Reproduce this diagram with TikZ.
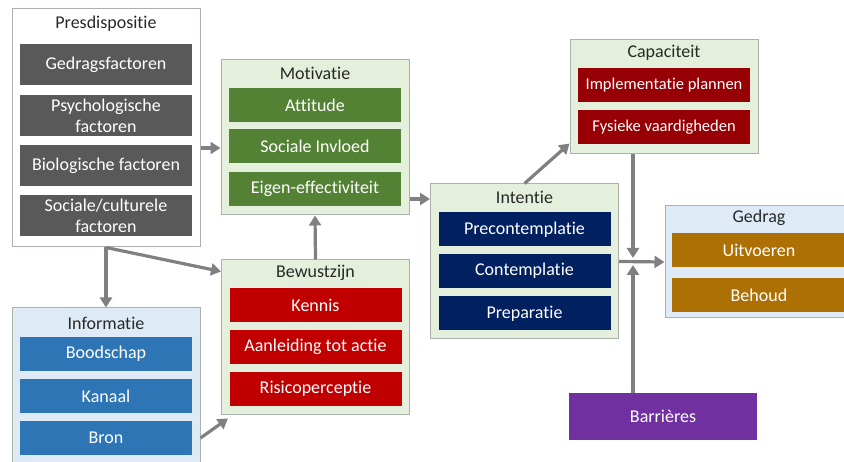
\documentclass[tikz,border=0pt]{standalone}
\usepackage{fontspec}
\setmainfont{Carlito}[Ligatures=CommonOff]
\definecolor{framegray}{RGB}{170, 178, 170}
\definecolor{greenbg}{RGB}{228, 240, 220}
\definecolor{bluebg}{RGB}{222, 235, 247}
\definecolor{titlegray}{RGB}{40, 40, 40}
\definecolor{factorgray}{RGB}{89, 89, 89}
\definecolor{infoblue}{RGB}{46, 117, 182}
\definecolor{motivgreen}{RGB}{84, 130, 53}
\definecolor{awarered}{RGB}{192, 0, 0}
\definecolor{capred}{RGB}{150, 0, 5}
\definecolor{intentnavy}{RGB}{0, 32, 96}
\definecolor{behavochre}{RGB}{172, 112, 5}
\definecolor{barrpurple}{RGB}{112, 48, 160}
\definecolor{flowgray}{RGB}{128, 128, 128}
\usetikzlibrary{arrows.meta, positioning, calc}
\newcommand{\boxfont}{\fontsize{18}{21}\selectfont}
\newcommand{\capfont}{\fontsize{16.5}{20}\selectfont}

\begin{document}
\begin{tikzpicture}[x=1pt, y=-1pt, font=\boxfont,
  group/.style={draw=framegray, line width=1pt, inner sep=0pt, minimum width=188pt, minimum height=155pt},
  grouptitle/.style={text=titlegray, inner sep=0pt},
  item/.style={fill=#1, text=white, inner sep=0pt, minimum width=172pt, minimum height=34pt, align=center},
  flow/.style={draw=flowgray, line width=3.2pt, -{Triangle[length=10pt, width=12pt]}}]
  \useasboundingbox (0,0) rectangle (844,462);

  % Presdispositie
  \node[group, fill=white, minimum height=238pt] (pres) at (106,128) {};
  \node[grouptitle] (prestitle) at (106,24) {Presdispositie};
  \node[item=factorgray, minimum height=41pt] (gedragsf) at (106,64.5) {Gedragsfactoren};
  \node[item=factorgray, minimum height=41pt] (psych) at (106,115.5) {Psychologische\\factoren};
  \node[item=factorgray, minimum height=41pt] (biol) at (106,165.5) {Biologische factoren};
  \node[item=factorgray, minimum height=41pt] (soc) at (106,216) {Sociale/culturele\\factoren};

  % Informatie
  \node[group, fill=bluebg] (info) at (106,385.5) {};
  \node[grouptitle] (infotitle) at (106,323) {Informatie};
  \node[item=infoblue] (boodschap) at (106,354) {Boodschap};
  \node[item=infoblue] (kanaal) at (106,396) {Kanaal};
  \node[item=infoblue] (bron) at (106,438) {Bron};

  % Motivatie
  \node[group, fill=greenbg] (motiv) at (315,137.5) {};
  \node[grouptitle] (motivtitle) at (315,73) {Motivatie};
  \node[item=motivgreen] (attitude) at (315,105) {Attitude};
  \node[item=motivgreen] (invloed) at (315,146.5) {Sociale Invloed};
  \node[item=motivgreen] (eigen) at (315,189) {Eigen-effectiviteit};

  % Bewustzijn
  \node[group, fill=greenbg] (bewust) at (315.5,337.5) {};
  \node[grouptitle] (bewusttitle) at (315.5,273) {Bewustzijn};
  \node[item=awarered] (kennis) at (315.5,305.5) {Kennis};
  \node[item=awarered] (aanleiding) at (315.5,347) {Aanleiding tot actie};
  \node[item=awarered] (risico) at (315.5,389) {Risicoperceptie};

  % Intentie
  \node[group, fill=greenbg] (intent) at (524.5,261.5) {};
  \node[grouptitle] (intenttitle) at (524.5,197) {Intentie};
  \node[item=intentnavy] (precontempl) at (524.5,229.5) {Precontemplatie};
  \node[item=intentnavy] (contempl) at (524.5,271) {Contemplatie};
  \node[item=intentnavy] (prepar) at (524.5,313.5) {Preparatie};

  % Capaciteit
  \node[group, fill=greenbg, minimum height=114pt] (capac) at (664,97) {};
  \node[grouptitle] (capactitle) at (664,53) {Capaciteit};
  \node[item=capred, font=\capfont] (implem) at (664,85.5) {Implementatie plannen};
  \node[item=capred, font=\capfont] (fysiek) at (664,127.5) {Fysieke vaardigheden};

  % Gedrag
  \node[group, fill=bluebg, minimum height=112pt] (gedrag) at (759,262) {};
  \node[grouptitle] (gedragtitle) at (759,218) {Gedrag};
  \node[item=behavochre, minimum width=174pt] (uitvoeren) at (759,250) {Uitvoeren};
  \node[item=behavochre, minimum width=174pt] (behoud) at (759,295) {Behoud};

  % Barrieres
  \node[item=barrpurple, minimum width=188pt, minimum height=47pt] (barr) at (663,416.5) {Barrières};

  % Pijlen
  \coordinate (merge) at (633,262);
  \draw[flow] (pres.south) -- (info.north);
  \draw[flow] (pres.south) -- ([yshift=-12pt]bewust.north west);
  \draw[flow] ([yshift=-20pt]pres.east) -- ([yshift=-20pt]pres.east -| motiv.west);
  \draw[flow] (bewust.north) -- (motiv.south);
  \draw[flow] (info.east |- bron) -- ([xshift=7pt, yshift=-3pt]bewust.south west);
  \draw[flow] ([yshift=-61.5pt]motiv.east) -- ([yshift=-61.5pt]motiv.east -| intent.west);
  \draw[flow] (intent.north) -- ([yshift=11pt]capac.south west);
  \draw[flow] (intent.east) -- (gedrag.west);
  \draw[flow] (capac.south -| merge) -- ([yshift=4pt]merge);
  \draw[flow] (barr.north -| merge) -- ([yshift=-3pt]merge);
\end{tikzpicture}
\end{document}
